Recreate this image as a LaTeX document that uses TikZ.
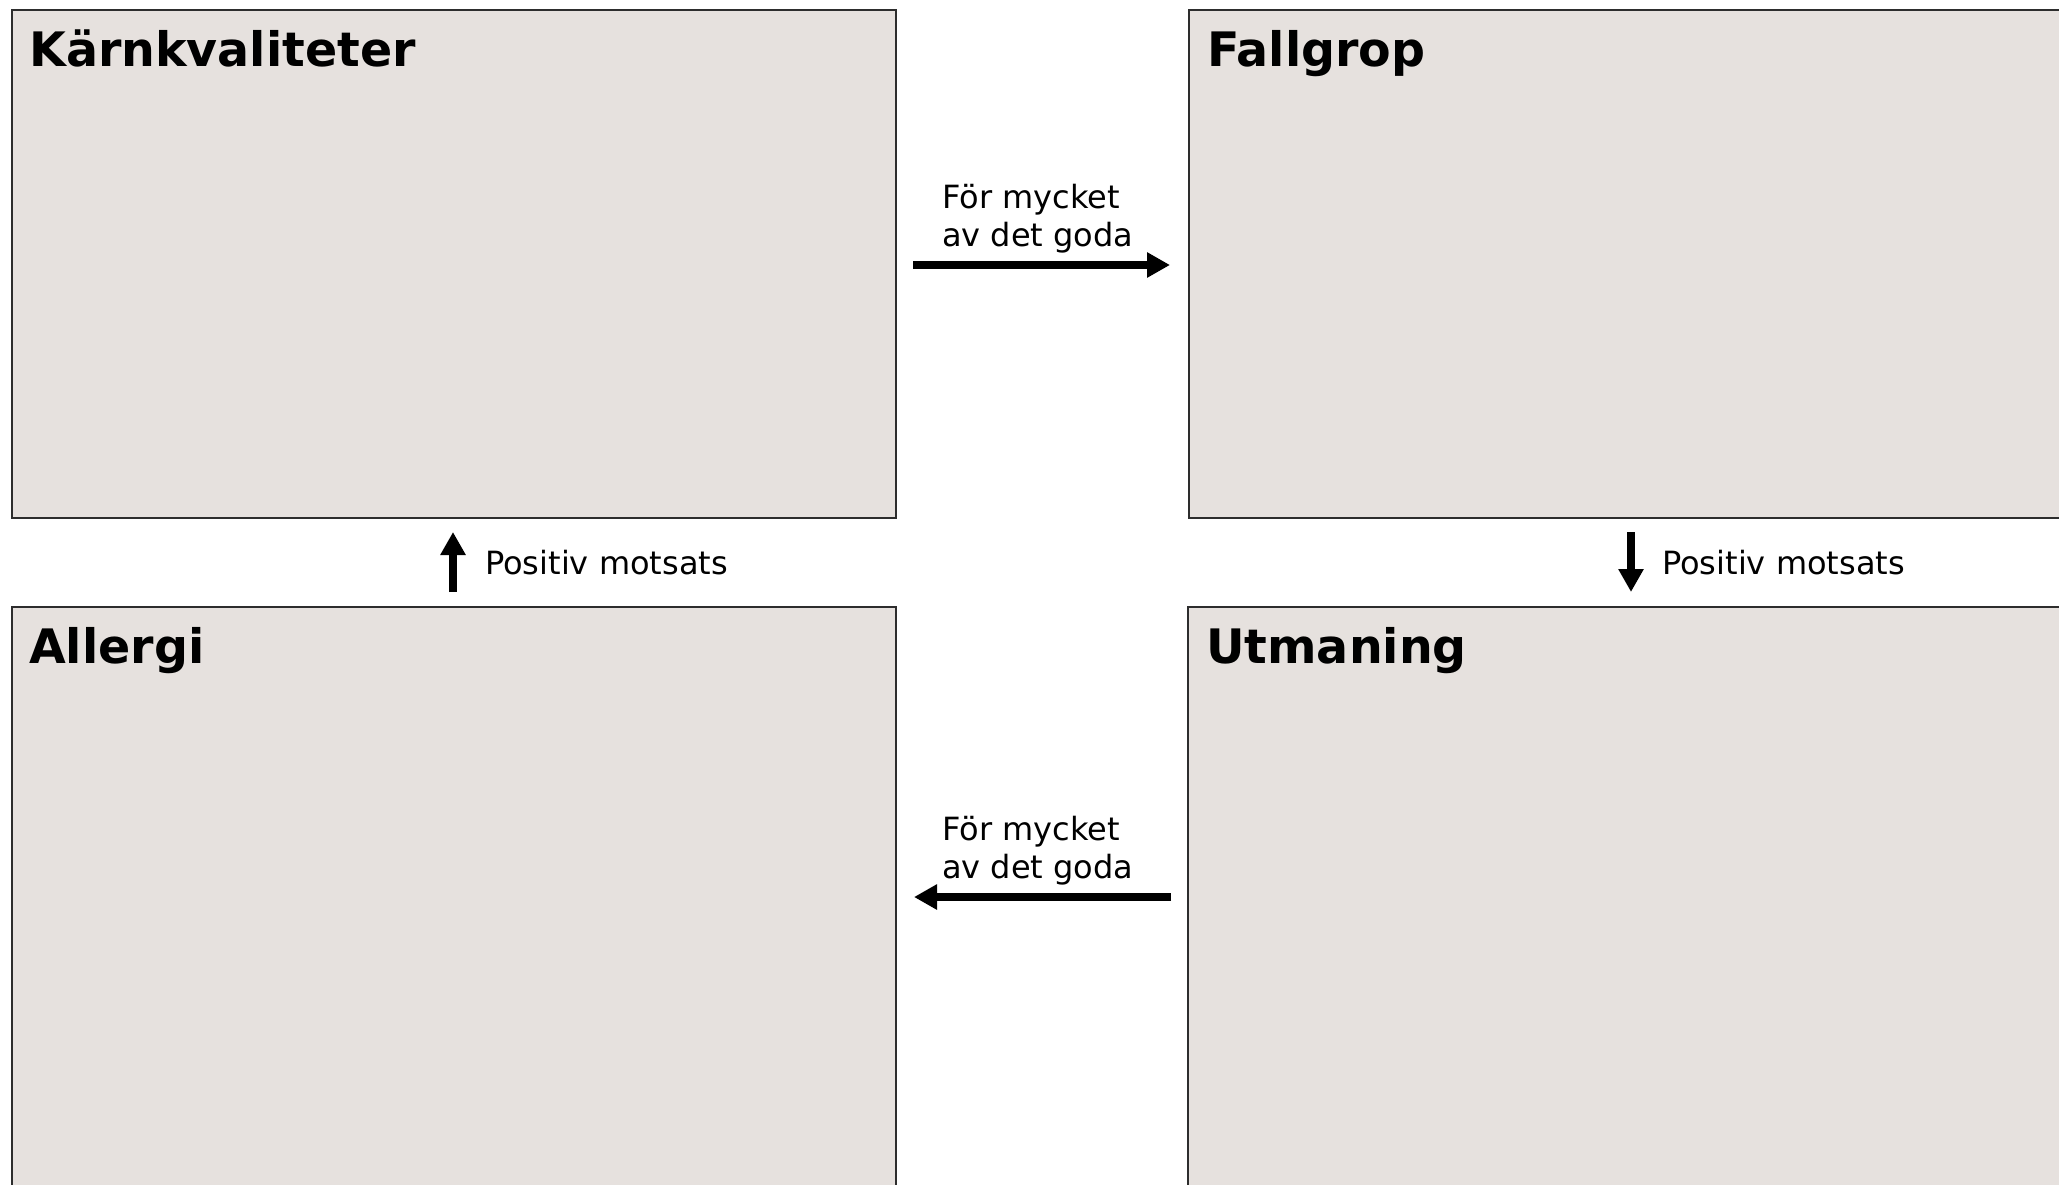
\documentclass[tikz,border=0pt]{standalone}
\usepackage{fontspec}
\setmainfont{DejaVu Sans}
\usetikzlibrary{arrows.meta}
\definecolor{boxfill}{RGB}{230,225,222}
\definecolor{boxline}{RGB}{45,45,45}
\tikzset{
  quad/.style={draw=boxline, fill=boxfill, line width=1.5pt, anchor=north west, inner sep=0pt, outer sep=0pt},
  quadtitle/.style={anchor=base west, inner sep=0pt, font=\fontsize{47.5}{56}\selectfont\bfseries},
  lbl/.style={anchor=base west, inner sep=0pt, align=left, font=\fontsize{32}{38}\selectfont},
  fatarrow/.style={line width=7.5pt, -{Triangle[length=23pt,width=24pt]}}
}
\begin{document}
\begin{tikzpicture}[x=1pt,y=-1pt]
\useasboundingbox (0,0) rectangle (2059,1184);
\clip (0,0) rectangle (2059,1184);
\fill[white] (0,0) rectangle (2059,1184);
% boxes
\node[quad, minimum width=884pt, minimum height=508pt] (TL) at (12,10) {};
\node[quad, minimum width=900pt, minimum height=508pt] (TR) at (1189,10) {};
\node[quad, minimum width=884pt, minimum height=700pt] (BL) at (12,607) {};
\node[quad, minimum width=900pt, minimum height=700pt] (BR) at (1188,607) {};
% titles
\node[quadtitle] (tTL) at ([xshift=17pt,yshift=-56pt]TL.north west) {Kärnkvaliteter};
\node[quadtitle] (tTR) at ([xshift=18pt,yshift=-56pt]TR.north west) {Fallgrop};
\node[quadtitle] (tBL) at ([xshift=17pt,yshift=-56pt]BL.north west) {Allergi};
\node[quadtitle] (tBR) at ([xshift=18pt,yshift=-56pt]BR.north west) {Utmaning};
% arrows
\coordinate (a1s) at (913,265);
\coordinate (a1e) at (1170,265);
\draw[fatarrow] (a1s) -- (a1e);
\node[lbl] (l1) at (942,246) {För mycket\\av det goda};
\coordinate (a2s) at (1631,532);
\coordinate (a2e) at (1631,592);
\draw[fatarrow] (a2s) -- (a2e);
\node[lbl] (l2) at (1662,574) {Positiv motsats};
\coordinate (a3s) at (1171,897);
\coordinate (a3e) at (914,897);
\draw[fatarrow] (a3s) -- (a3e);
\node[lbl] (l3) at (942,878) {För mycket\\av det goda};
\coordinate (a4s) at (453,592);
\coordinate (a4e) at (453,532);
\draw[fatarrow] (a4s) -- (a4e);
\node[lbl] (l4) at (485,574) {Positiv motsats};
\end{tikzpicture}
\end{document}
